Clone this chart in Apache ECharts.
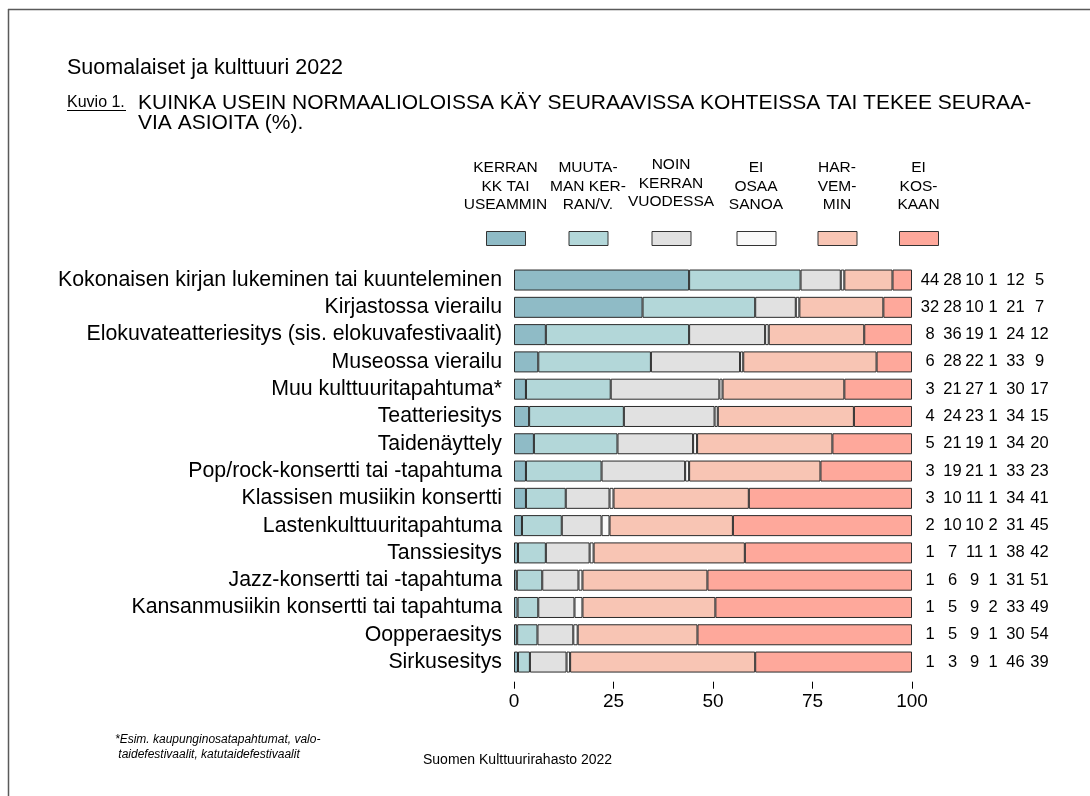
<!DOCTYPE html>
<html><head><meta charset="utf-8">
<script src="https://cdn.jsdelivr.net/npm/echarts@6/dist/echarts.min.js"></script>
<style>html,body{margin:0;padding:0;background:#fff}#c{width:1090px;height:796px}</style>
</head><body><div id="c"></div>
<script>
// ---------- DATA ----------
const categories = [
  'Kokonaisen kirjan lukeminen tai kuunteleminen',
  'Kirjastossa vierailu',
  'Elokuvateatteriesitys (sis. elokuvafestivaalit)',
  'Museossa vierailu',
  'Muu kulttuuritapahtuma*',
  'Teatteriesitys',
  'Taidenäyttely',
  'Pop/rock-konsertti tai -tapahtuma',
  'Klassisen musiikin konsertti',
  'Lastenkulttuuritapahtuma',
  'Tanssiesitys',
  'Jazz-konsertti tai -tapahtuma',
  'Kansanmusiikin konsertti tai tapahtuma',
  'Oopperaesitys',
  'Sirkusesitys'
];
const seriesNames = ['KERRAN KK TAI USEAMMIN', 'MUUTAMAN KERRAN/V.', 'NOIN KERRAN VUODESSA', 'EI OSAA SANOA', 'HARVEMMIN', 'EI KOSKAAN'];
const legendLabels = ['KERRAN\nKK TAI\nUSEAMMIN', 'MUUTA-\nMAN KER-\nRAN/V.', 'NOIN\nKERRAN\nVUODESSA', 'EI\nOSAA\nSANOA', 'HAR-\nVEM-\nMIN', 'EI\nKOS-\nKAAN'];
// bar segment lengths (%)
const monthly    = [44, 32.3, 8.0, 6.1, 3.0, 3.8, 5, 3, 3, 2, 1, 0.7, 0.9, 0.8, 1];
const fewTimes   = [28, 28.3, 36.0, 28.3, 21.3, 23.8, 21, 19, 10, 10, 7, 6.4, 5.2, 5.1, 3];
const oncePerYr  = [10.1, 10.2, 19.1, 22.4, 27.3, 22.8, 19, 21, 11, 10, 11, 9.1, 9.1, 9.0, 9.2];
const dontKnow   = [0.9, 0.9, 0.9, 0.8, 0.8, 0.8, 1, 1, 1, 2, 1, 1.0, 2.0, 1.1, 0.9];
const lessOften  = [12.1, 21.1, 24.0, 33.5, 30.6, 34.2, 34, 33, 34, 31, 38, 31.4, 33.4, 30.1, 46.5];
const never      = [4.9, 7.2, 12.0, 8.9, 17.0, 14.6, 20, 23, 41, 45, 42, 51.4, 49.4, 53.9, 39.4];
// printed percentages (right-hand table)
const pMonthly   = [44, 32, 8, 6, 3, 4, 5, 3, 3, 2, 1, 1, 1, 1, 1];
const pFewTimes  = [28, 28, 36, 28, 21, 24, 21, 19, 10, 10, 7, 6, 5, 5, 3];
const pOncePerYr = [10, 10, 19, 22, 27, 23, 19, 21, 11, 10, 11, 9, 9, 9, 9];
const pDontKnow  = [1, 1, 1, 1, 1, 1, 1, 1, 1, 2, 1, 1, 2, 1, 1];
const pLessOften = [12, 21, 24, 33, 30, 34, 34, 33, 34, 31, 38, 31, 33, 30, 46];
const pNever     = [5, 7, 12, 9, 17, 15, 20, 23, 41, 45, 42, 51, 49, 54, 39];
const xTicks = [0, 25, 50, 75, 100];

// ---------- STYLE ----------
const FONT = '"Liberation Sans", Arial, sans-serif';
const colors = ['#8fbbc6', '#b3d7d9', '#e1e1e1', '#f9f9f9', '#f8c5b4', '#fea89b'];
const barValues = [monthly, fewTimes, oncePerYr, dontKnow, lessOften, never];
const printed = [pMonthly, pFewTimes, pOncePerYr, pDontKnow, pLessOften, pNever];
const numCenters = [18, 40.5, 62.5, 81, 103.5, 127.5]; // offsets from plot right edge
const legendCenters = [505.5, 588, 671, 756, 837, 918.5];
const legendTextTop = [158.75, 158.75, 155.75, 158.75, 158.75, 158.75];

const chart = echarts.init(document.getElementById('c'), null, {renderer: 'canvas'});

const yAxes = [{
  type: 'category', inverse: true, data: categories,
  axisLine: {show: false}, axisTick: {show: false},
  axisLabel: {interval: 0, margin: 12, fontSize: 21.3, color: '#000', fontFamily: FONT}
}];
printed.forEach((arr, k) => {
  yAxes.push({
    type: 'category', inverse: true, data: categories, position: 'right', offset: 0,
    axisLine: {show: false}, axisTick: {show: false}, splitLine: {show: false},
    axisLabel: {interval: 0, margin: numCenters[k], align: 'center', fontSize: 16.5, color: '#000', fontFamily: FONT,
      formatter: (v, i) => String(arr[i])}
  });
});

const graphics = [
  {type: 'line', shape: {x1: 8, y1: 9.5, x2: 1090, y2: 9.5}, style: {stroke: '#5a5a5a', lineWidth: 1.5}},
  {type: 'line', shape: {x1: 8.5, y1: 9, x2: 8.5, y2: 796}, style: {stroke: '#5a5a5a', lineWidth: 1.5}},
  {type: 'text', x: 67, y: 68, style: {text: 'Suomalaiset ja kulttuuri 2022', font: '21.5px ' + FONT, fill: '#000', textVerticalAlign: 'middle', verticalAlign: 'middle'}},
  {type: 'text', x: 67, y: 103, style: {text: 'Kuvio 1.', font: '16px ' + FONT, fill: '#000', textVerticalAlign: 'middle', verticalAlign: 'middle'}},
  {type: 'line', shape: {x1: 67, y1: 110.5, x2: 126, y2: 110.5}, style: {stroke: '#000', lineWidth: 1}},
  {type: 'text', x: 138, y: 103, style: {text: 'KUINKA USEIN NORMAALIOLOISSA KÄY SEURAAVISSA KOHTEISSA TAI TEKEE SEURAA-', font: '21px ' + FONT, fill: '#000', textVerticalAlign: 'middle', verticalAlign: 'middle'}},
  {type: 'text', x: 138, y: 123, style: {text: 'VIA ASIOITA (%).', font: '21px ' + FONT, fill: '#000', textVerticalAlign: 'middle', verticalAlign: 'middle'}},
  {type: 'text', x: 115, y: 732.5, style: {text: '*Esim. kaupunginosatapahtumat, valo-\n taidefestivaalit, katutaidefestivaalit', font: 'italic 12px ' + FONT, fill: '#000', lineHeight: 15, textVerticalAlign: 'top', verticalAlign: 'top'}},
  {type: 'text', x: 423, y: 760, style: {text: 'Suomen Kulttuurirahasto 2022', font: '14px ' + FONT, fill: '#000', textVerticalAlign: 'middle', verticalAlign: 'middle'}}
];
legendLabels.forEach((t, k) => {
  graphics.push({type: 'text', x: legendCenters[k], y: legendTextTop[k],
    style: {text: t, font: '15.5px ' + FONT, fill: '#000', lineHeight: 18.5, textAlign: 'center', align: 'center', textVerticalAlign: 'top', verticalAlign: 'top'}});
});

const legends = seriesNames.map((n, k) => ({
  data: [n], left: legendCenters[k] - 19.5, top: 231, padding: 0,
  itemWidth: 39, itemHeight: 14, icon: 'rect', selectedMode: false,
  itemStyle: {borderColor: '#333', borderWidth: 1},
  formatter: () => ' ', textStyle: {fontSize: 1, color: 'rgba(0,0,0,0)'}
}));

const option = {
  animation: false,
  backgroundColor: '#fff',
  textStyle: {fontFamily: FONT},
  grid: {left: 514, top: 266.4, width: 398, height: 409.3},
  legend: legends,
  xAxis: {
    type: 'value', min: xTicks[0], max: xTicks[xTicks.length - 1], interval: 25, offset: 6,
    axisLine: {show: false}, splitLine: {show: false},
    axisTick: {show: true, length: 7, lineStyle: {color: '#000', width: 1}},
    axisLabel: {margin: 11, fontSize: 19, color: '#000', fontFamily: FONT}
  },
  yAxis: yAxes,
  series: seriesNames.map((n, k) => ({
    name: n, type: 'bar', stack: 'total', yAxisIndex: 0, barWidth: 21,
    data: barValues[k],
    itemStyle: {color: colors[k], borderColor: '#2a2a2a', borderWidth: 1}
  })),
  graphic: graphics
};
chart.setOption(option);
</script>
</body></html>
